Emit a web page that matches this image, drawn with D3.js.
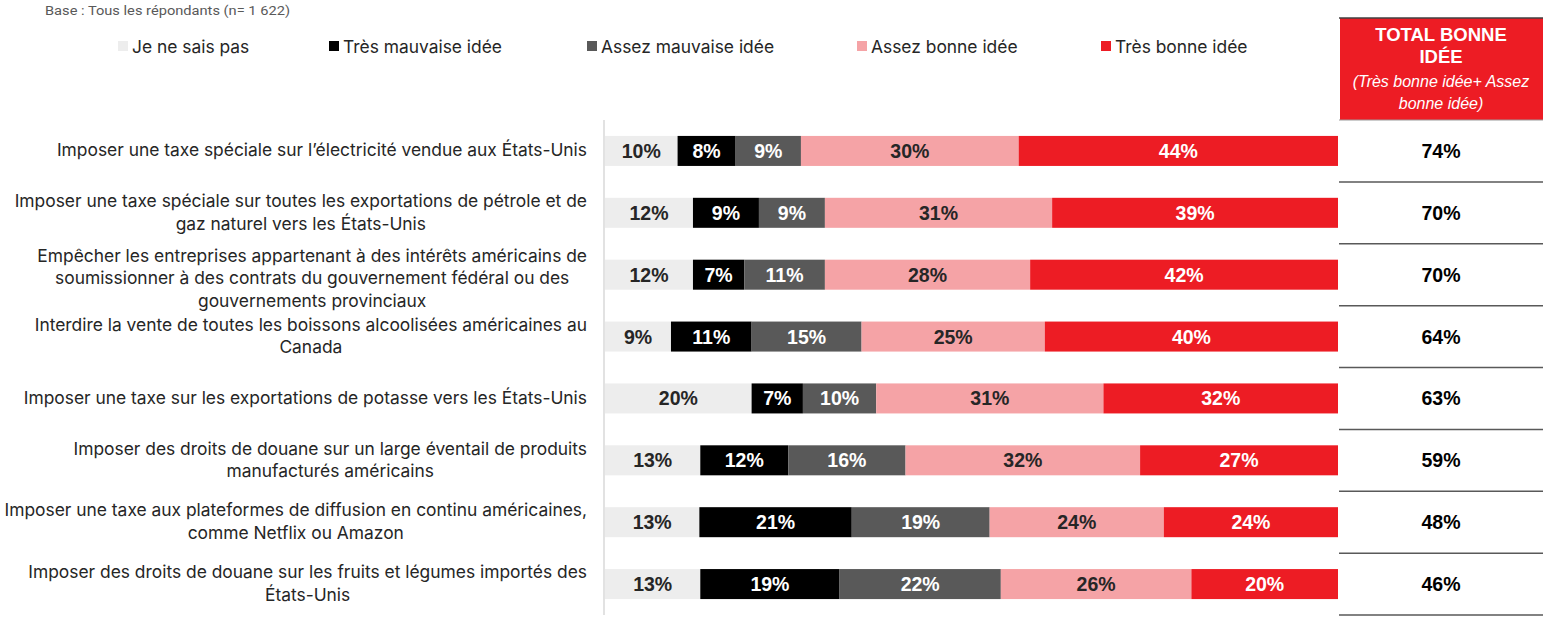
<!DOCTYPE html>
<html><head><meta charset="utf-8">
<script src="https://cdn.jsdelivr.net/npm/d3@7"></script>
<style>
html,body{margin:0;padding:0;background:#fff;}
svg{display:block;}
</style></head>
<body>
<svg id="chart" width="1550" height="638"></svg>
<script>
const categories = [
  ["Imposer une taxe spéciale sur l’électricité vendue aux États-Unis"],
  ["Imposer une taxe spéciale sur toutes les exportations de pétrole et de", "gaz naturel vers les États-Unis"],
  ["Empêcher les entreprises appartenant à des intérêts américains de", "soumissionner à des contrats du gouvernement fédéral ou des", "gouvernements provinciaux"],
  ["Interdire la vente de toutes les boissons alcoolisées américaines au", "Canada"],
  ["Imposer une taxe sur les exportations de potasse vers les États-Unis"],
  ["Imposer des droits de douane sur un large éventail de produits", "manufacturés américains"],
  ["Imposer une taxe aux plateformes de diffusion en continu américaines,", "comme Netflix ou Amazon"],
  ["Imposer des droits de douane sur les fruits et légumes importés des", "États-Unis"]
];
const seriesNames = ["Je ne sais pas", "Très mauvaise idée", "Assez mauvaise idée", "Assez bonne idée", "Très bonne idée"];
const jeNeSaisPas   = [10, 12, 12, 9, 20, 13, 13, 13];
const tresMauvaise  = [8, 9, 7, 11, 7, 12, 21, 19];
const assezMauvaise = [9, 9, 11, 15, 10, 16, 19, 22];
const assezBonne    = [30, 31, 28, 25, 31, 32, 24, 26];
const tresBonne     = [44, 39, 42, 40, 32, 27, 24, 20];
const totalBonne    = [74, 70, 70, 64, 63, 59, 48, 46];
const baseText = "Base : Tous les répondants (n= 1 622)";
const totalHeader = ["TOTAL BONNE", "IDÉE"];
const totalSub = ["(Très bonne idée+ Assez", "bonne idée)"];

const colors = ["#ededed", "#000000", "#595959", "#f5a3a6", "#ed1c24"];
const textColors = ["#262626", "#ffffff", "#ffffff", "#262626", "#ffffff"];
const series = [jeNeSaisPas, tresMauvaise, assezMauvaise, assezBonne, tresBonne];

const svg = d3.select("#chart");
const labelFont = "Inter, 'Noto Sans', sans-serif";
const numFont = "'Liberation Sans', Arial, sans-serif";
const labelSize = 17.4;
const numSize = 19.5;

// base text
svg.append("text").attr("x", 45).attr("y", 15)
  .attr("font-family", "'Liberation Sans Narrow', Roboto, sans-serif")
  .attr("font-size", 12.5).attr("fill", "#595959")
  .attr("textLength", 245).attr("lengthAdjust", "spacingAndGlyphs")
  .text(baseText);

// legend
const legendX = [118, 329, 587, 857, 1101];
const lg = svg.append("g");
seriesNames.forEach((name, i) => {
  lg.append("rect").attr("x", legendX[i]).attr("y", 41).attr("width", 10).attr("height", 10).attr("fill", colors[i]);
  lg.append("text").attr("x", legendX[i] + 14).attr("y", 46).attr("dominant-baseline", "central")
    .attr("font-family", labelFont).attr("font-size", labelSize).attr("fill", "#262626").text(name);
});

// scales
const rows = d3.range(categories.length);
const y = d3.scaleBand().domain(rows).range([120, 615]).padding(0);
const barH = y.bandwidth() * 0.485;
const x0 = 605, x1 = 1338;

// axis line
svg.append("line").attr("x1", 604).attr("x2", 604).attr("y1", 120).attr("y2", 615)
  .attr("stroke", "#d9d9d9").attr("stroke-width", 1.5);

// stacked bars
rows.forEach(r => {
  const vals = series.map(s => s[r]);
  const sum = d3.sum(vals);
  const x = d3.scaleLinear().domain([0, sum]).range([x0, x1]);
  let acc = 0;
  const g = svg.append("g");
  vals.forEach((v, i) => {
    const a = acc, b = acc + v; acc = b;
    const cy = y(r) + y.bandwidth() / 2;
    g.append("rect").attr("x", x(a)).attr("y", cy - barH / 2)
      .attr("width", x(b) - x(a)).attr("height", barH).attr("fill", colors[i]);
    g.append("text").attr("x", (x(a) + x(b)) / 2).attr("y", cy)
      .attr("text-anchor", "middle").attr("dominant-baseline", "central")
      .attr("font-family", numFont).attr("font-weight", "bold").attr("font-size", numSize)
      .attr("fill", textColors[i]).text(v + "%");
  });
});

// category labels
const labelRight = 587;
const lineH = 22.5;
const cg = svg.append("g");
rows.forEach(r => {
  const lines = categories[r];
  const cy = y(r) + y.bandwidth() / 2;
  const offs = (r === 2) ? 3 : -1;
  const t = cg.append("text").attr("font-family", labelFont).attr("font-size", labelSize)
    .attr("fill", "#262626").attr("text-anchor", "middle");
  const spans = lines.map((ln, k) => t.append("tspan")
    .attr("y", cy + offs + (k - (lines.length - 1) / 2) * lineH)
    .attr("dominant-baseline", "central").text(ln));
  const maxW = d3.max(spans, s => s.node().getComputedTextLength());
  spans.forEach(s => s.attr("x", labelRight - maxW / 2));
});

// total column
const tx0 = 1339, tx1 = 1543, tcx = (tx0 + tx1) / 2;
svg.append("rect").attr("x", 1340).attr("y", 18).attr("width", 203).attr("height", 102).attr("fill", "#ed1c24");
svg.append("line").attr("x1", tx0).attr("x2", tx1).attr("y1", 18).attr("y2", 18).attr("stroke", "#404040").attr("stroke-width", 1.5);
svg.append("line").attr("x1", tx0).attr("x2", tx1).attr("y1", 120).attr("y2", 120).attr("stroke", "#9a9a9a").attr("stroke-width", 1);
totalHeader.forEach((t, k) => {
  svg.append("text").attr("x", tcx).attr("y", 34 + k * 22).attr("text-anchor", "middle").attr("dominant-baseline", "central")
    .attr("font-family", numFont).attr("font-weight", "bold").attr("font-size", 18.5).attr("fill", "#fff").text(t);
});
totalSub.forEach((t, k) => {
  svg.append("text").attr("x", tcx).attr("y", 81 + k * 22).attr("text-anchor", "middle").attr("dominant-baseline", "central")
    .attr("font-family", numFont).attr("font-style", "italic").attr("font-size", 16).attr("fill", "#fff").text(t);
});
rows.forEach(r => {
  const cy = y(r) + y.bandwidth() / 2;
  svg.append("text").attr("x", tcx).attr("y", cy).attr("text-anchor", "middle").attr("dominant-baseline", "central")
    .attr("font-family", numFont).attr("font-weight", "bold").attr("font-size", numSize).attr("fill", "#000").text(totalBonne[r] + "%");
  svg.append("line").attr("x1", tx0).attr("x2", tx1).attr("y1", y(r) + y.bandwidth()).attr("y2", y(r) + y.bandwidth())
    .attr("stroke", "#595959").attr("stroke-width", 1.5);
});
</script>
</body></html>
